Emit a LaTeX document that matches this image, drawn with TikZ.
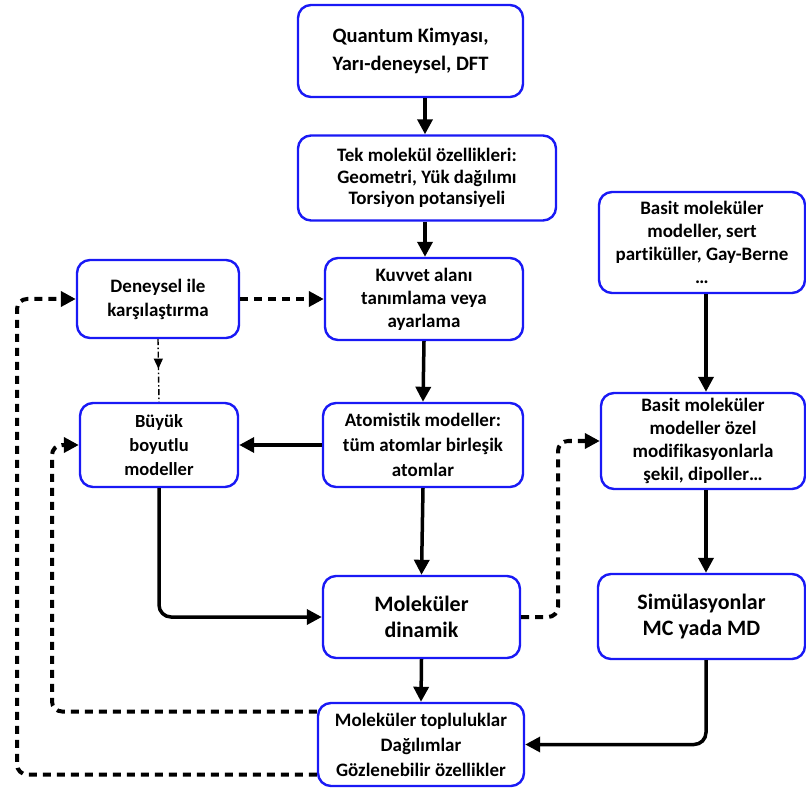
\documentclass[tikz,border=0pt]{standalone}
\usepackage{fontspec}
\setmainfont{Carlito}[Ligatures=NoCommon]
\usetikzlibrary{arrows.meta,calc,decorations.markings}
\definecolor{boxblue}{RGB}{25,25,245}
\newcommand{\fs}[2]{\bfseries\fontsize{#1}{#2}\selectfont}
\begin{document}
\begin{tikzpicture}[x=1pt,y=-1pt,
 box/.style={draw=boxblue, line width=2.4pt, rounded corners=13pt, align=center, fill=white,
   font=\fs{19}{23}, inner sep=2pt},
 arr/.style={line width=3.5pt, -{Triangle[length=15pt,width=15pt]}},
 darr/.style={line width=4pt, dash pattern=on 8pt off 6pt, -{Triangle[length=15pt,width=15pt]}, rounded corners=10pt},
 ddot/.style={line width=1.4pt, dash pattern=on 6pt off 2.5pt on 1.5pt off 2.5pt,
   postaction={decorate}, decoration={markings, mark=at position 0.47 with {\arrow{Triangle[length=10pt,width=9pt]}}}},
]
\useasboundingbox (0,0) rectangle (806,791);

\node[box, font=\fs{20.5}{28}, minimum width=225pt, minimum height=92pt] (q) at (410.5,51) {Quantum Kimyası,\\Yarı-deneysel, DFT};
\node[box, font=\fs{19}{21.5}, minimum width=258pt, minimum height=85pt] (tek) at (427,178) {Tek molekül özellikleri:\\Geometri, Yük dağılımı\\Torsiyon potansiyeli};
\node[box, minimum width=198pt, minimum height=82pt] (kuv) at (424,299) {Kuvvet alanı\\tanımlama veya\\ayarlama};
\node[box, font=\fs{19}{24}, minimum width=162pt, minimum height=78pt] (den) at (158,299) {Deneysel ile\\karşılaştırma};
\node[box, font=\fs{18.5}{24}, minimum width=158pt, minimum height=84pt] (buy) at (159,445) {Büyük\\boyutlu\\modeller};
\node[box, font=\fs{19}{25}, minimum width=200pt, minimum height=84pt] (ato) at (423,445) {Atomistik modeller:\\tüm atomlar birleşik\\atomlar};
\node[box, minimum width=206pt, minimum height=101pt] (b1) at (702,242.5) {Basit moleküler\\modeller, sert\\partiküller, Gay-Berne\\…};
\node[box, minimum width=204pt, minimum height=96pt] (b2) at (703,441) {Basit moleküler\\modeller özel\\modifikasyonlarla\\şekil, dipoller…};
\node[box, font=\fs{22}{26}, minimum width=207pt, minimum height=85pt] (sim) at (701.5,616.5) {Simülasyonlar\\MC yada MD};
\node[box, font=\fs{22}{26}, minimum width=197pt, minimum height=82pt] (md) at (421.5,617) {Moleküler\\dinamik};
\node[box, font=\fs{19}{25}, minimum width=206pt, minimum height=83pt] (top) at (421,744.5) {Moleküler topluluklar\\Dağılımlar\\Gözlenebilir özellikler};

\coordinate (xa) at (425,0);
\coordinate (xb) at (706,0);
\draw[arr] (q.south -| xa) -- (tek.north -| xa);
\draw[arr] (tek.south -| xa) -- (kuv.north -| xa);
\draw[arr] (kuv.south) -- (ato.north);
\draw[arr] (ato.west) -- (buy.east);
\draw[arr] (ato.south) -- (md.north);
\draw[arr, rounded corners=12pt] (buy.south) |- (md.west);
\draw[arr] (md.south) -- (top.north);
\draw[arr] (b1.south -| xb) -- (b2.north -| xb);
\draw[arr] (b2.south -| xb) -- (sim.north -| xb);
\draw[arr, rounded corners=12pt] (sim.south -| xb) |- (top.east);

\draw[darr] (den.east) -- (kuv.west);
\coordinate (v1) at (558,0);
\draw[darr] (md.east) -| ($(v1 |- b2.west)$) -- (b2.west);
\coordinate (v2) at (52,0);
\draw[darr] ($(top.west)+(0,-33)$) -| ($(v2 |- buy.west)$) -- (buy.west);
\coordinate (v3) at (17,0);
\draw[darr] ($(top.west)+(0,30)$) -| ($(v3 |- den.west)$) -- (den.west);

\draw[ddot] (den.south) -- (buy.north);
\end{tikzpicture}
\end{document}
